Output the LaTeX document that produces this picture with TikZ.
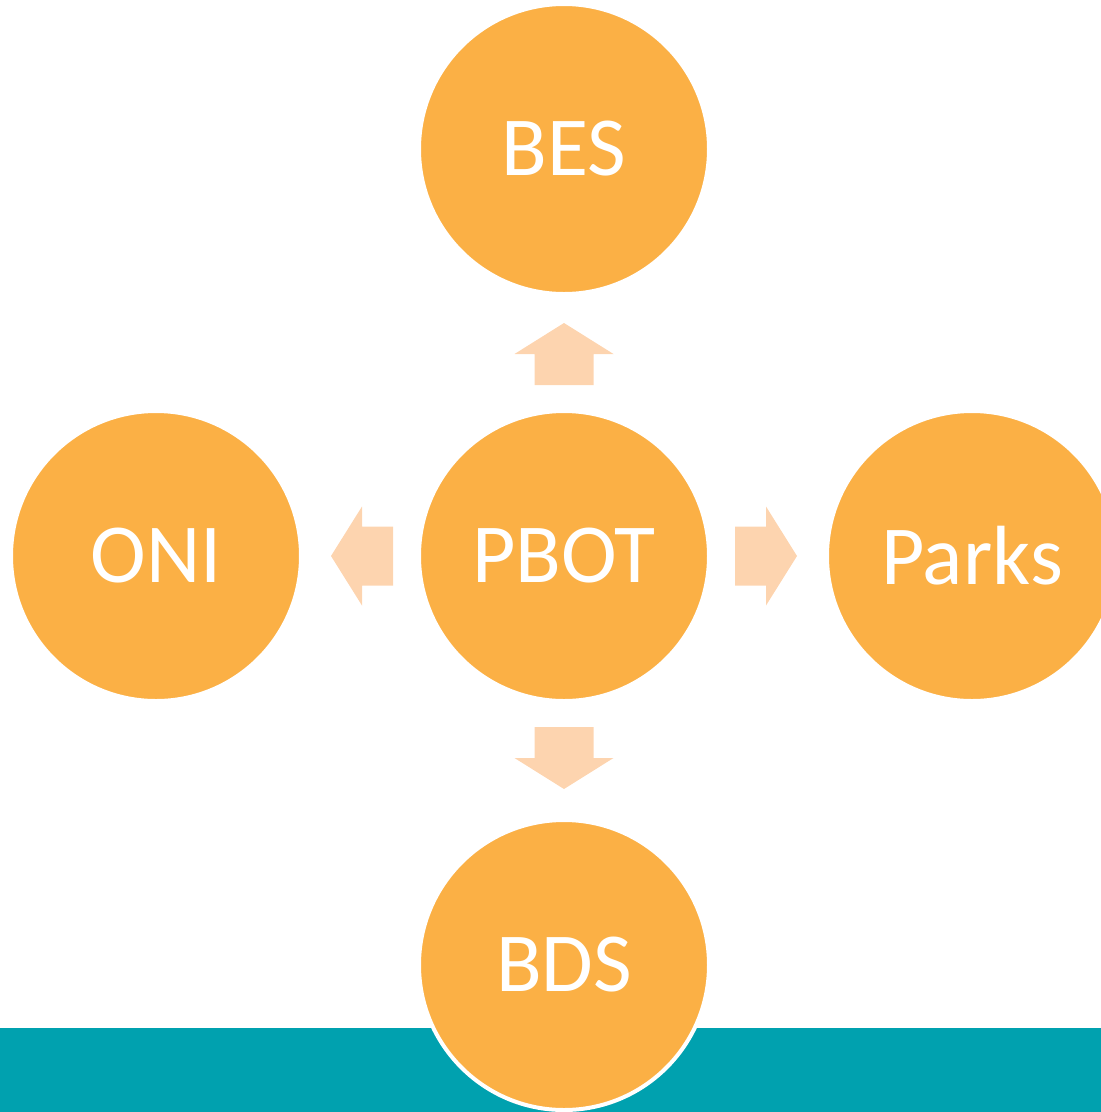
\documentclass[tikz,border=0pt]{standalone}
\usepackage{fontspec}
\setmainfont{Carlito}
\usetikzlibrary{positioning}

\definecolor{hubOrange}{HTML}{FBB045}
\definecolor{arrowPeach}{HTML}{FDD4AF}
\definecolor{bandTeal}{HTML}{00A1AF}

\tikzset{
  bureau/.style={circle, fill=hubOrange, draw=white, line width=4pt,
    minimum size=290pt, inner sep=0pt, text=white,
    font=\fontsize{84}{100}\selectfont},
  blockarrow/.style={fill=arrowPeach}
}

\begin{document}
\begin{tikzpicture}[x=1pt,y=-1pt]
\useasboundingbox (0,0) rectangle (1101,1112);
\clip (0,0) rectangle (1101,1112);
% bottom band
\fill[bandTeal] (0,1028) rectangle (1101,1112);

\node[bureau] (PBOT) at (564,556) {PBOT};
\node[bureau, above=113pt of PBOT] (BES) {BES};
\node[bureau, below=115pt of PBOT] (BDS) {BDS};
\node[bureau, left=114pt of PBOT] (ONI) {ONI};
\node[bureau, right=114pt of PBOT] (Parks) {Parks};

% block arrows out of the hub
\foreach \ang in {0,90,180,270}{
  \begin{scope}[shift={(PBOT.center)}, rotate=\ang]
    \fill[blockarrow] (171,-29.5) -- (202,-29.5) -- (202,-49.5) -- (233,0)
      -- (202,49.5) -- (202,29.5) -- (171,29.5) -- cycle;
  \end{scope}
}
\end{tikzpicture}
\end{document}
